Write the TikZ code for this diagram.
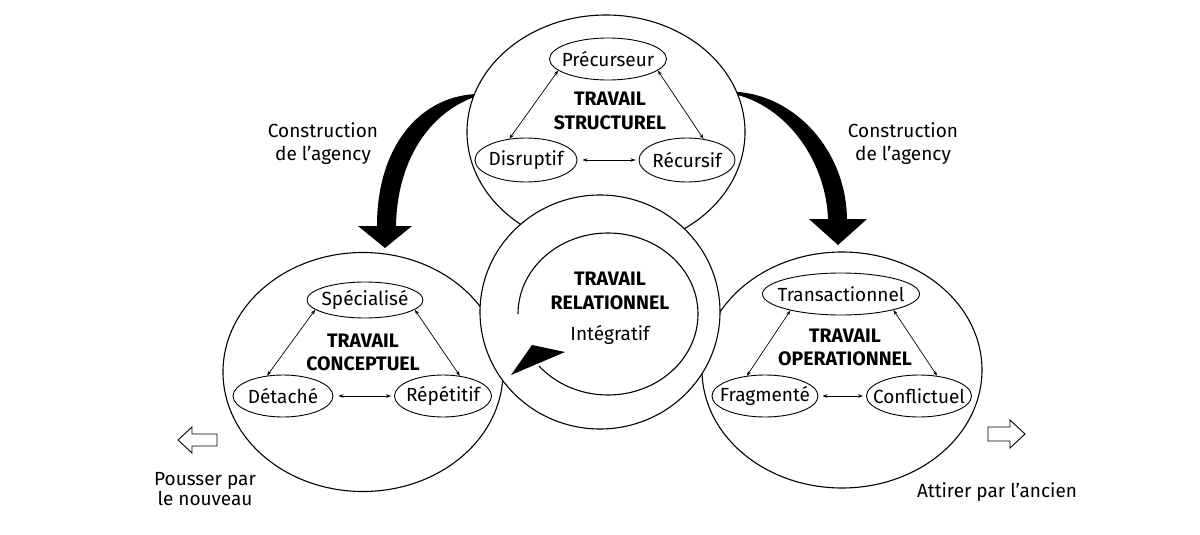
\documentclass[tikz,border=0pt]{standalone}
\usepackage{fontspec}
\setmainfont{Fira Sans}
\usetikzlibrary{shapes.geometric,arrows.meta,calc}
\newcommand{\itx}[1]{\makebox[0pt]{#1}}
\begin{document}
\begin{tikzpicture}[x=1pt,y=-1pt,
  zone/.style={draw, ellipse, line width=1.1pt, fill=white, inner sep=0pt},
  item/.style={draw, ellipse, line width=0.9pt, inner sep=0pt, fill=white, font=\fontsize{19}{22}\selectfont},
  dbl/.style={{Stealth[length=5pt,width=3.5pt]}-{Stealth[length=5pt,width=3.5pt]}, line width=0.7pt},
  ttl/.style={anchor=base, inner sep=0pt, font=\fontsize{19.5}{23}\selectfont\bfseries},
  lab/.style={anchor=base, inner sep=0pt, font=\fontsize{19}{23}\selectfont},
  hollow/.style={draw, line width=0.9pt, line join=miter}
]
\useasboundingbox (0,0) rectangle (1200,535);

% main zones
\node[zone, minimum width=278pt, minimum height=234pt] (struct) at (606,132) {};
\node[zone, minimum width=280pt, minimum height=239pt] (concept) at (363,372) {};
\node[zone, minimum width=280pt, minimum height=236pt] (oper) at (842,370) {};
\node[zone, minimum width=240pt, minimum height=234pt] (relat) at (600,312) {};

% structurel
\node[item, minimum width=117pt, minimum height=42pt] (pre) at (608,59) {\itx{Précurseur}};
\node[item, minimum width=102pt, minimum height=44pt] (dis) at (526,160) {\itx{Disruptif}};
\node[item, minimum width=96pt, minimum height=44pt] (rec) at (687,160) {\itx{Récursif}};
\node[ttl] (tS1) at (610,106) {TRAVAIL};
\node[ttl] (tS2) at (610,129) {STRUCTUREL};
\draw[dbl] (pre.193) -- (dis.128);
\draw[dbl] (pre.347) -- (rec.52);
\draw[dbl, shorten <=5pt, shorten >=3pt] (dis.east) -- (rec.west);

% conceptuel
\node[item, minimum width=116pt, minimum height=36pt] (spe) at (365,300) {\itx{Spécialisé}};
\node[item, minimum width=100pt, minimum height=42pt] (det) at (283,396) {\itx{Détaché}};
\node[item, minimum width=97pt, minimum height=42pt] (rep) at (443,396) {\itx{Répétitif}};
\node[ttl] (tC1) at (363,347) {TRAVAIL};
\node[ttl] (tC2) at (363,370) {CONCEPTUEL};
\draw[dbl] (spe.191) -- (det.128);
\draw[dbl] (spe.349) -- (rep.50);
\draw[dbl, shorten <=5pt, shorten >=3pt] (det.east) -- (rep.west);

% operationnel
\node[item, minimum width=157pt, minimum height=42pt] (tra) at (841,294) {\itx{Transactionnel}};
\node[item, minimum width=106pt, minimum height=42pt] (fra) at (765,396) {\itx{Fragmenté}};
\node[item, minimum width=105pt, minimum height=42pt] (con) at (919,396) {\itx{Conflictuel}};
\node[ttl] (tO1) at (845,342) {TRAVAIL};
\node[ttl] (tO2) at (845,365) {OPERATIONNEL};
\draw[dbl] (tra.198) -- (fra.132);
\draw[dbl] (tra.343) -- (con.48);
\draw[dbl, shorten <=4pt, shorten >=3pt] (fra.east) -- (con.west);

% relationnel
\coordinate (rc) at (608,314);
\draw[line width=1.1pt] ([xshift=-90pt]rc) arc[start angle=180, end angle=500, x radius=90, y radius=81];
\fill (511,375) -- (532,345) -- (565,352) -- cycle;
\node[ttl] (tR1) at (610,285) {TRAVAIL};
\node[ttl] (tR2) at (610,309) {RELATIONNEL};
\node[lab] (tR3) at (610,340) {Intégratif};

% big curved arrows
\coordinate (la0) at (struct.164);
\coordinate (la1) at (385,248);
\fill (la0) .. controls (418,98) and (377,148) .. (377,226) -- (358,226) -- (la1) -- (412,226) -- (396,226) .. controls (397,162) and (428,114) .. ($(la0)+(0,3)$) -- cycle;
\coordinate (ra0) at (struct.17);
\coordinate (ra1) at (838,245);
\fill (ra0) .. controls (795,96) and (846,150) .. (847,219) -- (867,219) -- (ra1) -- (809,219) -- (828,219) .. controls (826,162) and (788,108) .. ($(ra0)+(0,3)$) -- cycle;

\node[lab] (cl1) at (323,137) {Construction};
\node[lab] (cl2) at (323,160) {de l’agency};
\node[lab] (cr1) at (903,137) {Construction};
\node[lab] (cr2) at (903,160) {de l’agency};

% push / pull
\draw[hollow] (217,434) -- (192,434) -- (192,427) -- (178,440) -- (192,453) -- (192,446) -- (217,446) -- cycle;
\draw[hollow] (988,427) -- (1010,427) -- (1010,420) -- (1025,434) -- (1010,448) -- (1010,441) -- (988,441) -- cycle;
\node[lab] (pl1) at (205,485) {Pousser par};
\node[lab] (pl2) at (205,505) {le nouveau};
\node[lab] (pr1) at (997,497) {Attirer par l’ancien};
\end{tikzpicture}
\end{document}
